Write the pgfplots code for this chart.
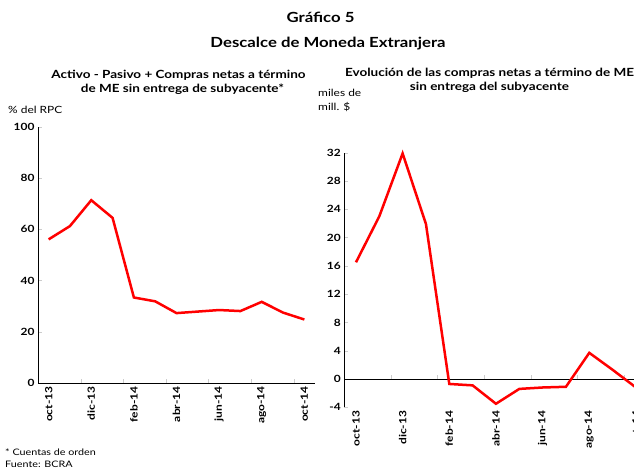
\documentclass[border=0pt]{standalone}
\usepackage{pgfplots}
\pgfplotsset{compat=1.18}
\usepackage{fontspec}
\setmainfont{Lato}[FakeStretch=1.2]
\begin{document}
\begin{tikzpicture}[x=1bp,y=1bp]
\pgfplotsset{
  every axis/.append style={
    scale only axis,
    /pgf/number format/assume math mode=true,
    tick label style={font=\fontsize{10}{12}\selectfont\bfseries},
    xticklabel style={rotate=90, anchor=east},
    axis y line*=left,
    axis x line*=bottom,
    xmin=-0.5, xmax=12.5,
    xtick={0,2,...,12},
    xticklabels={oct-13,dic-13,feb-14,abr-14,jun-14,ago-14,oct-14},
    major x tick style={draw=none},
    y tick style={gray!40},
    major tick length=4bp,
    axis line style={black, line width=0.8bp},
    clip=false,
  },
}
% left panel
\begin{axis}[
  at={(38bp,87bp)}, anchor=south west,
  width=277bp, height=256bp,
  ymin=0, ymax=100, ytick={0,20,...,100},
  extra x ticks={1.5,3.5,5.5,7.5,9.5,11.5},
  extra x tick labels={},
  extra x tick style={major x tick style={draw=gray!40}},
]
\addplot[red, line width=2.5bp] coordinates {
(0,56.1) (1,61.3) (2,71.4) (3,64.5) (4,33.4) (5,31.9) (6,27.3)
(7,27.9) (8,28.5) (9,28.1) (10,31.7) (11,27.5) (12,24.8)};
\end{axis}
% right panel
\begin{axis}[
  at={(344.3bp,62.7bp)}, anchor=south west,
  width=303.3bp, height=254.6bp,
  ymin=-4, ymax=32, ytick={-4,0,...,32},
  x axis line style={draw=none},
]
\draw[black, line width=0.8bp] (axis cs:-0.5,0) -- (axis cs:12.5,0);
\pgfplotsinvokeforeach{1.5,3.5,5.5,7.5,9.5,11.5}{
  \draw[gray!40] (axis cs:#1,0) -- ([yshift=4bp]axis cs:#1,0);
}
\addplot[red, line width=2.5bp] coordinates {
(0,16.5) (1,23.0) (2,31.9) (3,21.9) (4,-0.7) (5,-0.9) (6,-3.5)
(7,-1.4) (8,-1.2) (9,-1.1) (10,3.7) (11,1.3) (12,-1.2)};
\end{axis}
% texts
\node[font=\fontsize{14}{16}\selectfont\bfseries] at (320.5,453) {Gráfico 5};
\node[font=\fontsize{14}{16}\selectfont\bfseries] at (328,426) {Descalce de Moneda Extranjera};
\node[font=\fontsize{11.3}{13}\selectfont\bfseries] at (178.5,395) {Activo - Pasivo + Compras netas a término};
\node[font=\fontsize{11.3}{13}\selectfont\bfseries] at (182.5,381) {de ME sin entrega de subyacente*};
\node[font=\fontsize{11.3}{13}\selectfont\bfseries] at (489.5,397) {Evolución de las compras netas a término de ME};
\node[font=\fontsize{11.3}{13}\selectfont\bfseries] at (489.5,383) {sin entrega del subyacente};
\node[font=\fontsize{10}{12}\selectfont, anchor=west, inner sep=0pt] at (8,360) {\% del RPC};
\node[font=\fontsize{10}{12}\selectfont, anchor=west, inner sep=0pt] at (318,377) {miles de};
\node[font=\fontsize{10}{12}\selectfont, anchor=west, inner sep=0pt] at (318,363) {mill. \$};
\node[font=\fontsize{9}{11}\selectfont, anchor=west, inner sep=0pt] at (5,18) {* Cuentas de orden};
\node[font=\fontsize{9}{11}\selectfont, anchor=west, inner sep=0pt] at (5,6) {Fuente: BCRA};
\pgfresetboundingbox
\useasboundingbox (0,0) rectangle (634,470);
\end{tikzpicture}
\end{document}
